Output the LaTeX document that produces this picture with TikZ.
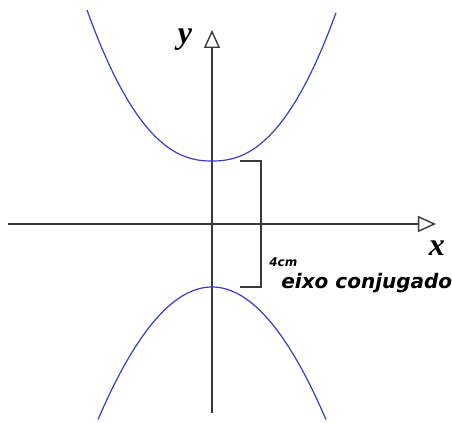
\documentclass[tikz,border=0pt]{standalone}
\usepackage{fontspec}
\setsansfont{DejaVu Sans}
\newfontfamily\labfont{Liberation Serif}
\usetikzlibrary{positioning,arrows.meta}
\definecolor{axis}{HTML}{3A3A3A}
\definecolor{curve}{HTML}{3C3CC8}
\tikzset{
  axisline/.style={draw=axis,line width=0.7pt,-{Triangle[open,length=9pt,width=8pt,line width=0.7pt]}},
  branch/.style={draw=curve,line width=0.6pt,smooth},
  axislabel/.style={font=\labfont\fontsize{16}{16}\selectfont\bfseries\itshape,inner sep=0pt},
  note/.style={inner sep=0pt,anchor=west}
}

\begin{document}
\begin{tikzpicture}[x=0.5pt,y=-0.5pt]
  \useasboundingbox (0,0) rectangle (452,423);
  \coordinate (xstart) at (8,224);
  \coordinate (xend) at (436,224);
  \coordinate (ystart) at (212,413);
  \coordinate (yend) at (212,30);
  \draw[axisline] (xstart) -- (xend);
  \draw[axisline] (ystart) -- (yend);
  % branches of the hyperbola
  \draw[branch] plot[domain=-125:124,samples=100,variable=\u] ({212+\u},{161-151*(abs(\u)/125)^2.3});
  \draw[branch] plot[domain=-114:114,samples=80,variable=\u] ({212+\u},{287+\u*\u/98});
  % bracket between vertices
  \coordinate (btop) at (240,161);
  \coordinate (bbot) at (240,287);
  \draw[axis,line width=0.7pt] (btop) -- ++(21,0) |- (bbot);
  \node[axislabel] (ylab) at (185,40) {y};
  \node[axislabel] (xlab) at (437,248) {x};
  \node[note,font=\sffamily\bfseries\itshape\fontsize{6}{6}\selectfont] (len) at (269,262) {4cm};
  \node[note,font=\sffamily\bfseries\itshape\fontsize{10}{10}\selectfont] (name) at (281,283) {eixo conjugado};
\end{tikzpicture}
\end{document}
